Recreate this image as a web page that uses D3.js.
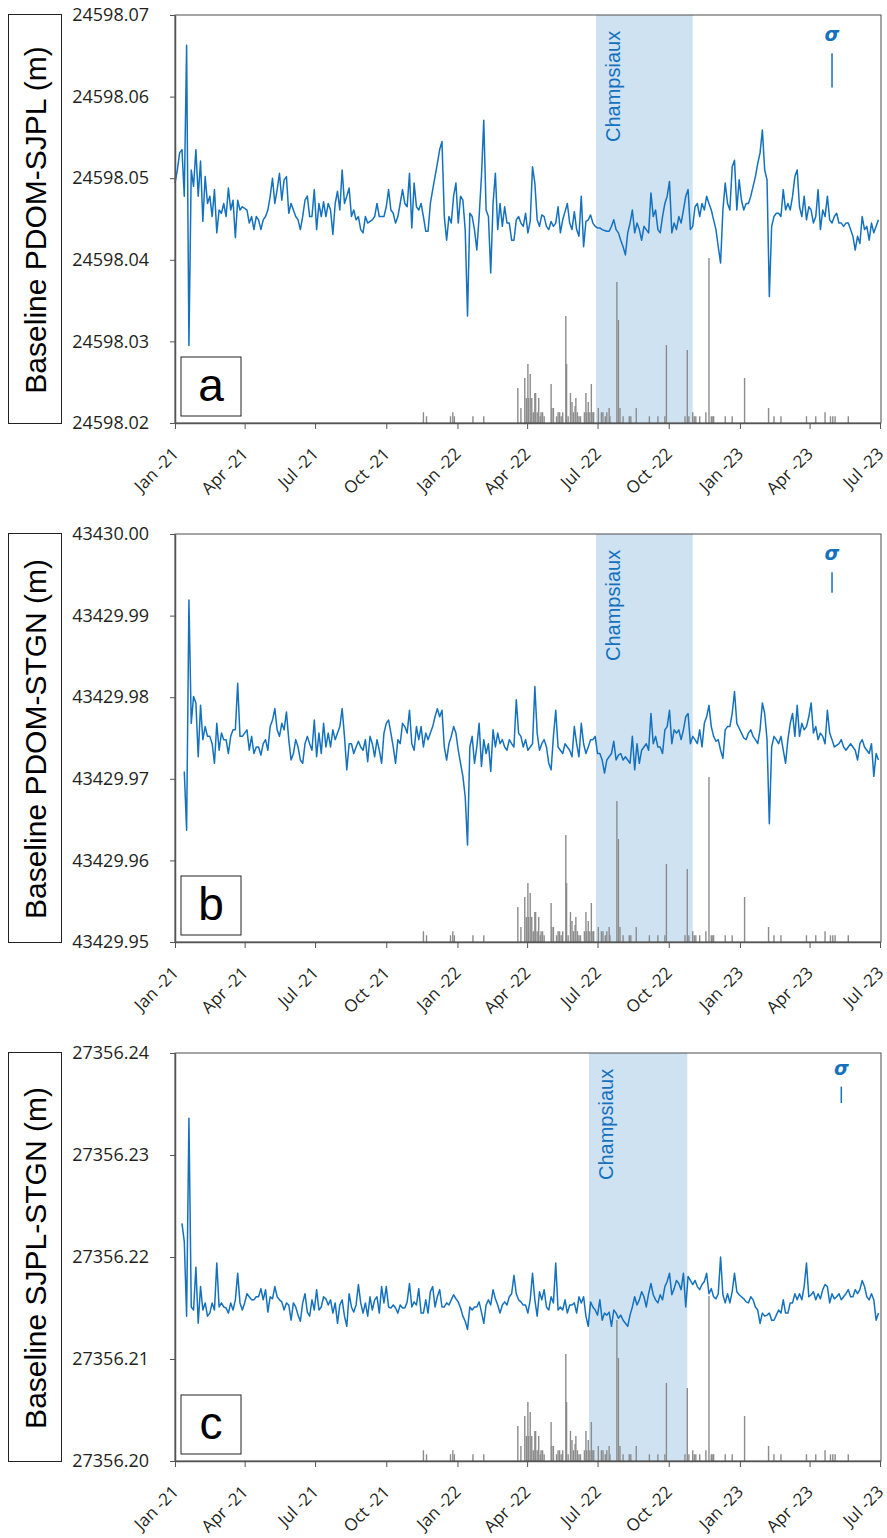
<!DOCTYPE html>
<html>
<head>
<meta charset="utf-8">
<script src="https://cdn.jsdelivr.net/npm/d3@7"></script>
<style>
  body { margin: 0; background: #fff; }
  .tick text { font-family: "Open Sans", sans-serif; fill: #231f20; }
  .axis path, .axis line { stroke: #555; }
</style>
</head>
<body>
<div class="chart"></div>
<script>
var svgWidth = 887;
var svgHeight = 1538;

// daily GNSS baselines, read every 3rd day from 2021-01-01
var startDate = "2021-01-01";
var stepDays = 3;

var quarterTicks = ["2021-01-01", "2021-04-01", "2021-07-01", "2021-10-01", "2022-01-01", "2022-04-01",
  "2022-07-01", "2022-10-01", "2023-01-01", "2023-04-01", "2023-07-01"];
var quarterLabels = ["Jan -21", "Apr -21", "Jul -21", "Oct -21", "Jan -22", "Apr -22",
  "Jul -22", "Oct -22", "Jan -23", "Apr -23", "Jul -23"];

// millimetres above 24598.000 m
var pdomSjplBase = 24598.0;
var pdomSjplMm = [
  49.4, 51.0, 53.1, 53.5, 47.8, 66.3, 29.5, 51.0, 49.0, 53.5,
  47.8, 52.1, 44.7, 50.2, 46.9, 47.8, 45.3, 48.6, 43.3, 46.1,
  45.7, 46.9, 45.3, 48.8, 46.1, 47.3, 42.7, 47.3, 46.1, 46.5,
  46.3, 46.1, 44.5, 45.3, 43.7, 45.3, 44.9, 43.7, 44.9, 45.3,
  46.1, 47.8, 50.0, 46.9, 48.6, 50.6, 47.3, 49.8, 50.2, 45.7,
  46.9, 46.1, 45.3, 44.9, 43.7, 45.3, 47.3, 47.8, 45.3, 45.3,
  48.6, 43.7, 46.9, 45.3, 47.1, 45.3, 46.9, 46.1, 43.1, 46.9,
  48.4, 46.1, 51.0, 46.9, 47.8, 48.8, 45.3, 46.1, 44.9, 45.3,
  43.7, 43.3, 45.3, 44.5, 44.7, 44.9, 45.3, 46.9, 45.3, 45.3,
  45.3, 46.5, 48.6, 46.1, 45.7, 44.5, 45.3, 46.9, 48.6, 46.9,
  46.5, 50.6, 43.9, 49.4, 46.5, 46.1, 46.9, 45.3, 43.5, 43.5,
  46.9, 48.6, 50.2, 51.8, 53.5, 54.5, 45.3, 42.4, 45.3, 44.5,
  47.8, 49.4, 44.5, 47.8, 47.3, 43.7, 33.1, 45.7, 45.3, 43.7,
  41.2, 45.3, 50.2, 57.1, 46.1, 45.3, 38.4, 46.9, 50.6, 43.7,
  46.9, 44.1, 46.5, 44.5, 44.5, 42.4, 42.4, 44.9, 45.3, 44.5,
  44.1, 45.7, 43.3,
  44.7, 51.4, 49.4, 44.9, 44.1, 45.5, 45.3, 44.1, 43.7, 44.7,
  44.1, 44.5, 46.5, 43.3, 44.9, 45.9, 46.9, 44.5, 43.7, 45.9,
  43.7, 42.9, 47.8, 41.6, 44.7, 44.9, 45.5, 44.5, 44.1, 43.9,
  43.9, 43.7, 43.6, 43.5, 43.5, 44.1, 44.9, 43.7, 43.3, 42.4,
  41.6, 40.6, 43.3, 44.5, 46.1, 43.3, 44.5, 43.7, 42.4, 44.1,
  43.7, 43.3, 48.2, 45.3, 46.1, 43.7, 43.3, 45.3, 46.9, 47.8,
  49.6, 43.3, 44.5, 43.7, 45.3, 44.5, 46.1, 47.8, 48.6, 43.7,
  44.1, 46.5, 46.9, 45.3, 46.9, 46.1, 47.8, 46.9, 46.1, 44.9,
  43.7, 41.6, 39.6, 46.1, 49.4, 46.9, 46.1, 51.4, 52.2, 46.1,
  49.8, 47.3, 46.1, 46.9, 46.9, 47.8, 49.0, 50.2, 51.8, 53.1,
  55.9, 51.0, 49.8, 35.5, 44.1, 45.3, 45.7, 45.7, 45.3, 48.6,
  46.1, 46.9, 46.1, 47.8, 50.2, 51.0, 46.5, 45.3, 47.8, 44.9,
  46.5, 46.1, 44.5, 45.3, 48.6, 43.7, 46.1, 45.3, 47.8, 44.9,
  44.5, 45.3, 45.7, 44.5, 44.5, 44.1, 44.5, 44.5, 43.7, 42.9,
  41.2, 42.9, 42.0, 45.3, 43.7, 44.1, 42.4, 44.5, 43.3, 44.1,
  44.9
];

// millimetres above 43429.900 m
var pdomStgnBase = 43429.9;
var pdomStgnMm = [
  null, null, null, null,
  70.9, 63.7, 91.9, 76.8, 80.1, 79.3, 72.7, 79.0, 74.8, 76.4,
  75.2, 75.2, 74.3, 71.9, 76.8, 73.5, 75.6, 74.8, 74.8, 73.1,
  75.2, 76.0, 76.0, 81.7, 75.2, 75.2, 75.6, 76.0, 73.5, 75.2,
  73.1, 73.9, 73.9, 72.9, 74.3, 74.8, 73.5, 76.4, 77.2, 78.6,
  76.0, 75.2, 76.8, 76.0, 78.2, 74.8, 72.3, 73.1, 74.8, 73.9,
  72.3, 71.9, 74.3, 75.2, 74.3, 73.5, 77.2, 72.7, 75.6, 73.1,
  76.8, 73.9, 75.6, 73.9, 76.0, 74.8, 75.6, 76.4, 78.6, 75.2,
  71.1, 74.3, 74.3, 73.1, 73.9, 74.6, 73.9, 73.5, 74.8, 72.1,
  75.2, 74.3, 72.7, 74.8, 73.5, 71.9, 75.6, 76.8, 77.2, 75.6,
  73.9, 71.9, 74.8, 74.3, 76.8, 76.4, 75.6, 78.4, 74.3, 73.5,
  76.4, 74.8, 76.4, 73.9, 75.6, 74.8, 75.6, 76.4, 77.6, 78.6,
  77.6, 78.4, 73.9, 72.3, 74.3, 75.2, 76.4, 75.6, 73.5, 71.9,
  70.3, 67.8, 61.9, 73.9, 75.2, 71.9, 73.9, 76.8, 71.5, 74.8,
  73.1, 74.3, 70.9, 76.0, 73.9, 75.6, 74.3, 74.8, 73.9, 73.5,
  74.8, 74.3, 73.9, 79.7, 75.6, 75.2, 73.9, 74.8, 73.5,
  73.9, 74.3, 81.3, 75.6, 73.5, 74.3, 74.8, 73.9, 71.9, 71.1,
  75.2, 78.4, 73.9, 73.5, 73.1, 74.3, 73.9, 73.5, 72.7, 76.4,
  74.3, 72.7, 76.8, 74.3, 73.1, 73.9, 74.8, 74.8, 75.2, 73.1,
  73.1, 72.3, 70.7, 72.3, 72.7, 73.1, 74.6, 72.3, 72.9, 73.1,
  72.3, 72.7, 72.3, 71.9, 75.2, 71.1, 74.3, 71.9, 73.5, 73.9,
  74.3, 73.5, 78.0, 74.3, 75.2, 73.9, 73.9, 73.1, 76.0, 76.4,
  78.4, 74.3, 76.0, 75.6, 76.0, 74.8, 76.0, 77.6, 78.0, 74.3,
  75.2, 74.8, 74.3, 76.0, 73.9, 76.8, 77.6, 79.0, 76.4, 75.2,
  74.6, 74.8, 73.5, 72.5, 76.0, 76.4, 76.4, 78.0, 80.7, 76.8,
  76.2, 75.6, 75.0, 74.8, 75.6, 76.0, 75.2, 74.8, 74.3, 76.0,
  79.3, 78.0, 74.8, 64.5, 73.9, 75.2, 74.8, 74.3, 75.2, 73.5,
  71.9, 74.8, 76.8, 78.0, 75.2, 79.0, 75.2, 76.8, 76.0, 76.4,
  77.6, 79.3, 75.6, 76.4, 74.8, 75.6, 75.2, 74.3, 78.4, 75.6,
  74.8, 73.9, 74.1, 74.3, 74.8, 73.9, 73.5, 73.9, 74.3, 73.9,
  73.5, 72.3, 74.3, 74.8, 73.9, 73.5, 73.1, 74.3, 70.3, 73.1,
  72.3
];

// millimetres above 27356.200 m
var sjplStgnBase = 27356.2;
var sjplStgnMm = [
  null, null, null,
  23.3, 21.5, 14.2, 33.6, 15.1, 14.8, 19.0, 13.5, 17.1, 14.8,
  15.5, 14.2, 14.5, 15.5, 14.8, 19.4, 15.1, 15.5, 15.1, 15.0,
  14.5, 15.5, 14.8, 15.8, 18.4, 15.5, 14.8, 15.5, 16.4, 16.1,
  15.8, 15.8, 16.1, 16.1, 16.9, 15.8, 16.8, 14.6, 16.1, 15.9,
  17.1, 16.1, 15.8, 15.6, 14.8, 15.5, 15.3, 13.8, 15.5, 15.1,
  14.3, 13.7, 15.5, 16.4, 14.6, 14.2, 15.8, 14.8, 16.8, 14.8,
  15.1, 16.1, 15.9, 15.3, 15.8, 14.5, 15.5, 13.5, 15.3, 15.8,
  14.2, 13.2, 16.4, 15.1, 14.6, 15.3, 17.3, 15.5, 14.5, 15.5,
  14.2, 16.1, 14.8, 15.8, 16.1, 14.5, 17.1, 15.5, 17.1, 15.1,
  15.0, 15.3, 15.0, 14.5, 15.3, 15.0, 15.0, 15.6, 17.4, 15.1,
  15.6, 15.3, 16.9, 14.5, 14.5, 15.8, 14.5, 16.6, 17.1, 15.1,
  16.1, 16.8, 15.1, 15.1, 15.5, 15.3, 15.8, 16.3, 15.9, 15.6,
  15.0, 14.2, 13.7, 12.9, 15.1, 14.8, 15.1, 15.1, 15.6, 14.6,
  13.5, 15.3, 15.8, 15.3, 16.8, 15.9, 15.3, 14.5, 15.3, 15.6,
  15.3, 16.1, 16.4, 18.2, 16.4, 15.8, 15.6, 15.3, 15.3, 14.5,
  15.8, 18.4, 15.8, 14.2, 16.6, 15.8, 16.8, 15.1, 14.8, 16.1,
  15.5, 19.4, 14.8, 15.1, 14.8, 15.8, 14.5, 15.3, 15.3, 15.5,
  14.5, 16.1, 15.5, 16.1, 14.2, 13.2, 15.6, 15.1, 14.8, 14.3,
  15.8, 13.8, 14.5, 14.3, 14.6, 13.2, 14.8, 14.5, 14.0, 14.3,
  13.8, 13.5, 13.2, 14.3, 15.1, 16.1, 15.3, 15.8, 16.6, 16.1,
  15.1, 16.4, 17.4, 16.3, 15.8, 15.5, 16.3, 15.8, 17.1, 17.6,
  18.4, 16.3, 16.9, 17.7, 17.4, 16.8, 18.4, 15.1, 18.1, 17.7,
  17.3, 17.7, 17.1, 16.8, 17.3, 17.6, 18.4, 16.4, 16.9, 16.1,
  15.9, 16.4, 20.0, 16.3, 15.5, 16.4, 15.5, 16.6, 18.4, 16.6,
  16.3, 16.1, 15.9, 15.6, 15.5, 16.1, 15.8, 15.1, 14.8, 13.5,
  14.5, 14.2, 14.3, 14.5, 13.8, 13.8, 14.3, 14.8, 14.5, 15.8,
  14.5, 14.5, 15.5, 15.5, 16.4, 15.8, 16.4, 15.8, 17.1, 19.4,
  16.1, 16.3, 16.6, 15.8, 16.4, 15.9, 16.8, 17.3, 17.1, 15.5,
  16.4, 15.9, 16.1, 16.4, 15.8, 16.1, 16.4, 16.8, 16.1, 16.1,
  16.8, 16.4, 16.8, 17.7, 17.1, 16.1, 15.8, 16.4, 15.8, 13.8,
  14.5
];

// daily rainfall (mm), grey bars
var rainDates = [
  "2021-11-18", "2021-11-22", "2021-12-23", "2021-12-26", "2021-12-28", "2022-01-21", "2022-02-04",
  "2022-03-20", "2022-03-24", "2022-03-29", "2022-03-31", "2022-04-02", "2022-04-03", "2022-04-05",
  "2022-04-07", "2022-04-09", "2022-04-11", "2022-04-12", "2022-04-14", "2022-04-16", "2022-04-18",
  "2022-04-19", "2022-04-21", "2022-04-23", "2022-05-02", "2022-05-03", "2022-05-05", "2022-05-09",
  "2022-05-11", "2022-05-13", "2022-05-15", "2022-05-17", "2022-05-21", "2022-05-22", "2022-05-24",
  "2022-05-27", "2022-05-29", "2022-05-31", "2022-06-02", "2022-06-03", "2022-06-05", "2022-06-07",
  "2022-06-09", "2022-06-14", "2022-06-16", "2022-06-17", "2022-06-19", "2022-06-21", "2022-06-23",
  "2022-06-25", "2022-06-26", "2022-07-02", "2022-07-06", "2022-07-08", "2022-07-11", "2022-07-13",
  "2022-07-16", "2022-07-17", "2022-07-26", "2022-07-28", "2022-07-30", "2022-08-03", "2022-08-11",
  "2022-08-13", "2022-08-20", "2022-09-06", "2022-09-17", "2022-09-26", "2022-09-28", "2022-10-22",
  "2022-10-25", "2022-10-27", "2022-11-01", "2022-11-03", "2022-11-05", "2022-11-10", "2022-11-18",
  "2022-11-22", "2022-11-25", "2022-11-27", "2022-11-28", "2022-12-13", "2022-12-22", "2023-01-07",
  "2023-02-07", "2023-02-14", "2023-02-23", "2023-03-28", "2023-04-09", "2023-04-21", "2023-04-28",
  "2023-05-01", "2023-05-04", "2023-05-21"
];
var rainMm = [
  4.3, 2.7, 2.7, 4.3, 2.7, 2.7, 2.7,
  14.0, 6.0, 18.0, 10.0, 23.6, 10.0, 19.6,
  10.0, 4.3, 12.0, 12.0, 4.3, 10.0, 2.7,
  4.3, 4.3, 2.7, 15.6, 6.0, 6.0, 2.7,
  4.3, 4.3, 2.7, 4.3, 42.8, 23.6, 2.7,
  12.0, 8.4, 4.3, 6.8, 10.0, 4.3, 2.7,
  2.7, 4.3, 12.0, 4.3, 8.4, 4.3, 15.6,
  4.3, 4.3, 6.0, 4.3, 4.3, 2.7, 4.3,
  6.0, 2.7, 56.4, 41.2, 6.0, 2.7, 2.7,
  2.7, 6.0, 2.7, 2.7, 2.7, 31.2, 2.7,
  29.2, 2.7, 4.3, 2.7, 2.7, 2.7, 4.3,
  66.0, 2.7, 2.7, 2.7, 2.7, 2.7, 18.0,
  6.0, 2.7, 2.7, 2.7, 2.7, 4.3, 2.7,
  2.7, 2.7, 2.7
];

var labels = ["Baseline PDOM-SJPL (m)", "Baseline PDOM-STGN (m)", "Baseline SJPL-STGN (m)"];
var letters = ["a", "b", "c"];
var yDomains = [[24598.02, 24598.07], [43429.95, 43430.00], [27356.20, 27356.24]];
var champsiauxStart = ["2022-06-29", "2022-06-29", "2022-06-20"];
var champsiauxEnd = ["2022-11-01", "2022-11-01", "2022-10-25"];
var sigmaDates = ["2023-04-30", "2023-04-30", "2023-05-12"];
var sigmaTop = [24598.0653, 43429.9953, 27356.2367];
var sigmaValues = [0.0042, 0.0025, 0.0016];

var blue = "#1471be";
var parseDate = d3.timeParse("%Y-%m-%d");

var margin = { left: 175, right: 7 };
var width = svgWidth - margin.left - margin.right;
var height = 408;
var panelTops = [15, 534, 1053];

var svg = d3.select(".chart")
  .append("svg")
  .attr("width", svgWidth)
  .attr("height", svgHeight);

var start = parseDate(startDate);
function seriesFrom(base, mm) {
  return mm.map(function(v, i) {
    return { date: d3.timeDay.offset(start, i * stepDays), value: v === null ? null : base + v / 1000 };
  });
}
var series = [
  seriesFrom(pdomSjplBase, pdomSjplMm),
  seriesFrom(pdomStgnBase, pdomStgnMm),
  seriesFrom(sjplStgnBase, sjplStgnMm)
];

var rain = rainDates.map(function(d, i) {
  return { date: parseDate(d), mm: rainMm[i] };
});

var xScale = d3.scaleTime()
  .domain([parseDate("2021-01-01"), parseDate("2023-07-01")])
  .range([0, width]);

// rain bars share one pixel scale in every panel
var rainScale = d3.scaleLinear().domain([0, 163.2]).range([height, 0]);

series.forEach(function(data, p) {
  var chart = svg.append("g")
    .attr("transform", "translate(" + margin.left + "," + panelTops[p] + ")");

  var yScale = d3.scaleLinear().domain(yDomains[p]).range([height, 0]);

  // Champsiaux window
  var x0 = xScale(parseDate(champsiauxStart[p]));
  var x1 = xScale(parseDate(champsiauxEnd[p]));
  chart.append("rect")
    .attr("x", x0)
    .attr("y", 0)
    .attr("width", x1 - x0)
    .attr("height", height)
    .attr("fill", "#cfe2f2");

  chart.append("text")
    .attr("transform", "translate(" + (x0 + 24) + "," + 127 + ") rotate(-90)")
    .attr("font-family", "Liberation Sans, Arial, sans-serif")
    .attr("font-size", 20)
    .attr("fill", blue)
    .text("Champsiaux");

  // rain
  chart.selectAll(".rain")
    .data(rain)
    .enter()
    .append("rect")
    .attr("class", "rain")
    .attr("x", function(d) { return xScale(d.date) - 0.7; })
    .attr("y", function(d) { return rainScale(d.mm); })
    .attr("width", 1.4)
    .attr("height", function(d) { return height - rainScale(d.mm); })
    .attr("fill", "#8c8c8c");

  var line = d3.line()
    .defined(function(d) { return d.value !== null; })
    .x(function(d) { return xScale(d.date); })
    .y(function(d) { return yScale(d.value); });

  chart.append("path")
    .datum(data)
    .attr("d", line)
    .attr("fill", "none")
    .attr("stroke", blue)
    .attr("stroke-width", 1.5)
    .attr("stroke-linejoin", "round");

  // frame
  chart.append("rect")
    .attr("x", 0)
    .attr("y", 0)
    .attr("width", width + 1)
    .attr("height", height)
    .attr("fill", "none")
    .attr("stroke", "#4d4d4d")
    .attr("stroke-width", 1);

  var leftAxis = d3.axisLeft(yScale)
    .tickValues(d3.range(0, Math.round((yDomains[p][1] - yDomains[p][0]) * 100) + 1).map(function(k) {
      return yDomains[p][0] + k / 100;
    }))
    .tickFormat(function(d) { return d.toFixed(2); })
    .tickSize(5)
    .tickSizeOuter(0)
    .tickPadding(21);

  chart.append("g")
    .attr("class", "axis")
    .call(leftAxis)
    .call(function(g) {
      g.select(".domain").attr("stroke-width", 1.5);
      g.selectAll("text").attr("font-size", 18);
    });

  var bottomAxis = d3.axisBottom(xScale)
    .tickValues(quarterTicks.map(parseDate))
    .tickFormat(function(d, i) { return quarterLabels[i]; })
    .tickSize(6)
    .tickSizeOuter(0);

  chart.append("g")
    .attr("class", "axis")
    .attr("transform", "translate(0," + height + ")")
    .call(bottomAxis)
    .call(function(g) {
      g.select(".domain").attr("stroke-width", 1.5);
      g.selectAll("text")
        .attr("x", null)
        .attr("y", null)
        .attr("dy", null)
        .attr("font-size", 17)
        .attr("text-anchor", "end")
        .attr("transform", "translate(4,32) rotate(-45)");
    });

  // sigma marker
  var sx = xScale(parseDate(sigmaDates[p]));
  var sTop = yScale(sigmaTop[p]);
  var sLen = yScale(yDomains[p][0]) - yScale(yDomains[p][0] + sigmaValues[p]);
  chart.append("line")
    .attr("x1", sx).attr("x2", sx)
    .attr("y1", sTop).attr("y2", sTop + sLen)
    .attr("stroke", blue)
    .attr("stroke-width", 1.5);
  chart.append("text")
    .attr("x", sx)
    .attr("y", sTop - 12)
    .attr("text-anchor", "middle")
    .attr("font-family", "DejaVu Sans, sans-serif")
    .attr("font-weight", "bold")
    .attr("font-style", "italic")
    .attr("font-size", 19)
    .attr("fill", blue)
    .text("σ");

  // panel letter
  chart.append("rect")
    .attr("x", 6)
    .attr("y", 342)
    .attr("width", 60)
    .attr("height", 59)
    .attr("fill", "#fff")
    .attr("stroke", "#222")
    .attr("stroke-width", 1);
  chart.append("text")
    .attr("x", 36)
    .attr("y", 386)
    .attr("text-anchor", "middle")
    .attr("font-family", "Liberation Sans, Arial, sans-serif")
    .attr("font-size", 46)
    .attr("fill", "#000")
    .text(letters[p]);

  // y label box
  svg.append("rect")
    .attr("x", 8.5)
    .attr("y", panelTops[p] - 0.5)
    .attr("width", 53)
    .attr("height", height + 1)
    .attr("fill", "none")
    .attr("stroke", "#222")
    .attr("stroke-width", 1);
  svg.append("text")
    .attr("transform", "translate(46," + (panelTops[p] + height / 2 + 1) + ") rotate(-90)")
    .attr("text-anchor", "middle")
    .attr("font-family", "Liberation Sans, Arial, sans-serif")
    .attr("font-size", 30)
    .attr("fill", "#000")
    .text(labels[p]);
});
</script>
</body>
</html>
